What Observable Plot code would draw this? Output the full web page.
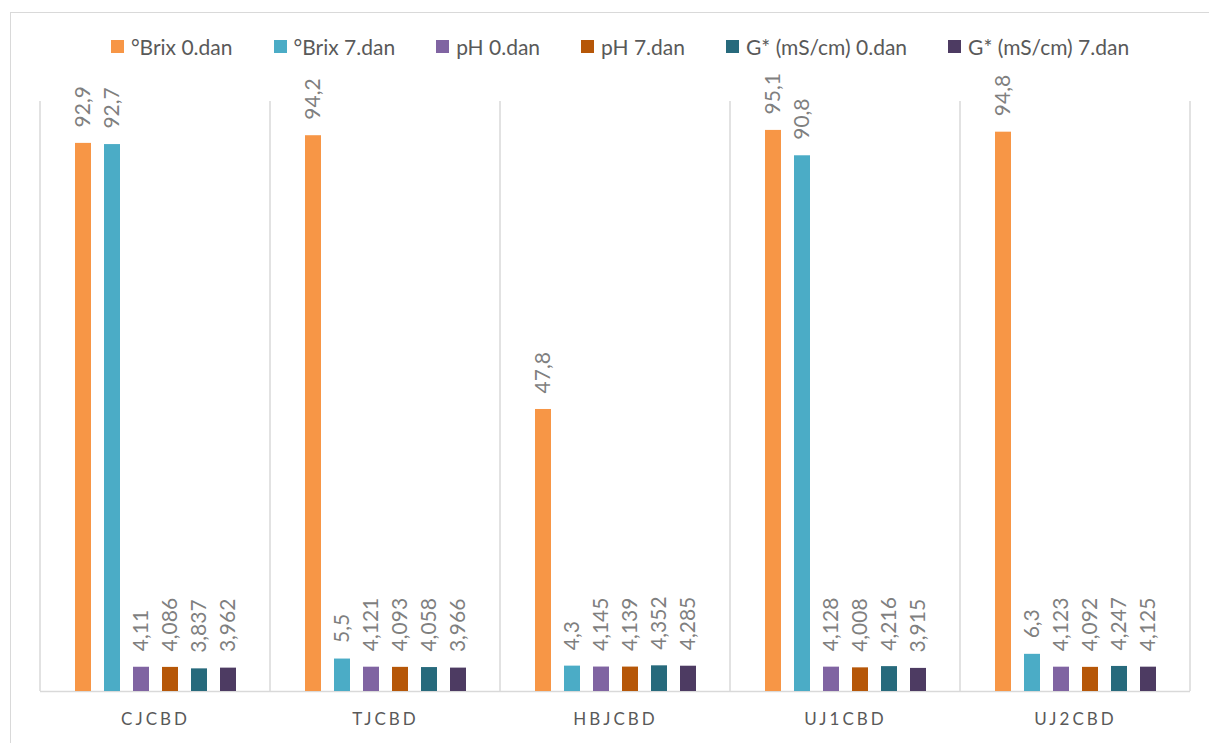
<!DOCTYPE html>
<html>
<head>
<meta charset="utf-8">
<script src="https://cdn.jsdelivr.net/npm/d3@7"></script>
<script src="https://cdn.jsdelivr.net/npm/@observablehq/plot@0.6"></script>
<style>
  html, body { margin: 0; padding: 0; background: #fff; width: 1209px; height: 743px; overflow: hidden; position: relative; font-family: Lato, "Open Sans", sans-serif; }
  #frame { position: absolute; left: 10px; top: 12px; width: 1300px; height: 900px; border: 1.5px solid #d9d9d9; }
  #legend { position: absolute; left: 10px; top: 34px; width: 1220px; display: flex; justify-content: center; gap: 41px; font-size: 21px; color: #595959; }
  #legend .item { display: flex; align-items: center; gap: 7px; white-space: nowrap; }
  #legend .sw { width: 13px; height: 13px; display: inline-block; }
  #chart { position: absolute; left: 0; top: 70px; }
  #chart svg g[aria-label="fx-axis tick label"] text { letter-spacing: 3px; }
</style>
</head>
<body>
<div id="frame"></div>
<div id="legend"></div>
<div id="chart"></div>
<script>
const categories = ["CJCBD", "TJCBD", "HBJCBD", "UJ1CBD", "UJ2CBD"];
const series = ["°Brix 0.dan", "°Brix 7.dan", "pH 0.dan", "pH 7.dan", "G* (mS/cm) 0.dan", "G* (mS/cm) 7.dan"];
const colors = ["#F79646", "#4BACC6", "#8064A2", "#B65708", "#276A7C", "#4D3B62"];
const brix0 = [92.9, 94.2, 47.8, 95.1, 94.8];
const brix7 = [92.7, 5.5, 4.3, 90.8, 6.3];
const ph0 = [4.11, 4.121, 4.145, 4.128, 4.123];
const ph7 = [4.086, 4.093, 4.139, 4.008, 4.092];
const g0 = [3.837, 4.058, 4.352, 4.216, 4.247];
const g7 = [3.962, 3.966, 4.285, 3.915, 4.125];
const seriesValues = [brix0, brix7, ph0, ph7, g0, g7];

const rows = [];
categories.forEach((c, i) => {
  series.forEach((s, j) => rows.push({cat: c, series: s, value: seriesValues[j][i]}));
});
const fmt = v => String(v).replace(".", ",");

// legend
const legend = document.getElementById("legend");
series.forEach((s, j) => {
  const it = document.createElement("div");
  it.className = "item";
  const sw = document.createElement("span");
  sw.className = "sw";
  sw.style.background = colors[j];
  const t = document.createElement("span");
  t.textContent = s;
  it.appendChild(sw); it.appendChild(t);
  legend.appendChild(it);
});

const plot = Plot.plot({
  width: 1209,
  height: 673,
  marginLeft: 39,
  marginRight: 19,
  marginTop: 31,
  marginBottom: 52,
  style: {fontFamily: "Lato, 'Open Sans', sans-serif", background: "transparent"},
  facet: {data: rows, x: "cat"},
  fx: {domain: categories, padding: 0, axis: "bottom", tickSize: 0, tickPadding: 21, label: null},
  x: {domain: series, paddingInner: 0.456, paddingOuter: 1.14, axis: null},
  y: {domain: [0, 100], axis: null},
  color: {domain: series, range: colors},
  marks: [
    Plot.ruleY([0], {stroke: "#d9d9d9", strokeWidth: 1.5}),
    Plot.barY(rows, {x: "series", y: "value", fill: "series"}),
    Plot.text(rows, {x: "series", y: "value", text: d => fmt(d.value), rotate: -90, textAnchor: "start", dy: -16, fill: "#7f7f7f", fontSize: 21})
  ]
});

// separators at facet boundaries, positioned via Plot's scales
const fx = plot.scale("fx");
const y = plot.scale("y");
const svg = d3.select(plot);
const bounds = categories.map(c => fx.apply(c));
bounds.push(fx.apply(categories[categories.length - 1]) + fx.bandwidth);
svg.append("g").selectAll("line").data(bounds).join("line")
  .attr("x1", d => d).attr("x2", d => d)
  .attr("y1", y.apply(100)).attr("y2", y.apply(0))
  .attr("stroke", "#d9d9d9").attr("stroke-width", 1.5);

svg.selectAll('g[aria-label="fx-axis tick label"] text, g[aria-label="fx-axis"] text')
  .attr("font-size", 17).attr("fill", "#595959");

document.getElementById("chart").appendChild(plot);
</script>
</body>
</html>
